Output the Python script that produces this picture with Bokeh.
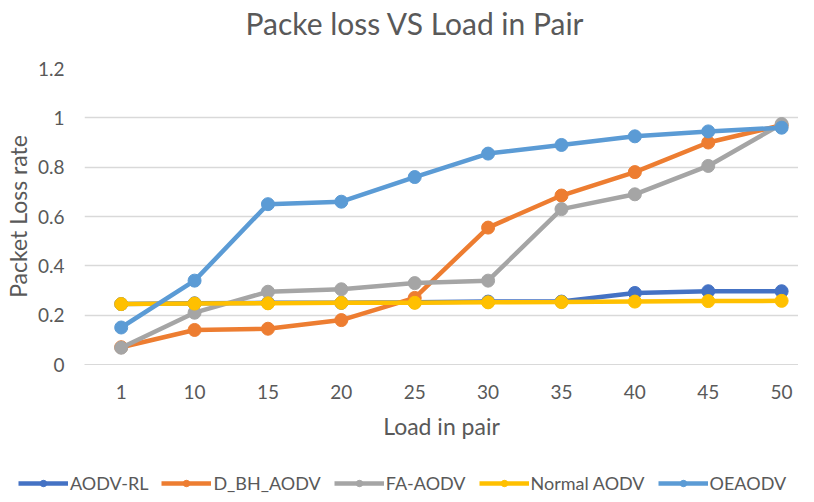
from bokeh.plotting import figure
from bokeh.models import (Range1d, FixedTicker, CustomJSTickFormatter, Legend, LegendItem, Label)
from bokeh.embed import file_html
from bokeh.resources import INLINE

title_text = "Packe loss VS Load in Pair"
loads = ["1", "10", "15", "20", "25", "30", "35", "40", "45", "50"]
aodv_rl = [0.245, 0.248, 0.25, 0.25, 0.252, 0.255, 0.255, 0.29, 0.297, 0.297]
d_bh_aodv = [0.07, 0.14, 0.145, 0.18, 0.27, 0.555, 0.685, 0.78, 0.90, 0.97]
fa_aodv = [0.068, 0.21, 0.295, 0.305, 0.33, 0.34, 0.63, 0.69, 0.805, 0.975]
normal_aodv = [0.245, 0.247, 0.248, 0.25, 0.25, 0.252, 0.253, 0.255, 0.257, 0.258]
oeaodv = [0.15, 0.34, 0.65, 0.66, 0.76, 0.855, 0.89, 0.925, 0.945, 0.96]
y_ticks = [0, 0.2, 0.4, 0.6, 0.8, 1.0, 1.2]

series = [
    ("AODV-RL", aodv_rl, "#4472C4"),
    ("D_BH_AODV", d_bh_aodv, "#ED7D31"),
    ("FA-AODV", fa_aodv, "#A5A5A5"),
    ("Normal AODV", normal_aodv, "#FFC000"),
    ("OEAODV", oeaodv, "#5B9BD5"),
]

FONT = "Lato"
TXT = "#595959"
W = 798

# title strip
p0 = figure(width=W, height=40, output_backend="svg", toolbar_location=None,
            x_axis_location=None, y_axis_location=None,
            x_range=Range1d(0, 1), y_range=Range1d(0, 1),
            min_border_left=0, min_border_right=0, min_border_top=0, min_border_bottom=0)
p0.grid.visible = False
p0.outline_line_color = None
p0.add_layout(Label(x=245, y=18, x_units="screen", y_units="screen", text=title_text,
                    text_font=FONT, text_font_size="30px", text_color=TXT,
                    text_align="left", text_baseline="middle"))

# main chart
p = figure(width=W, height=418, output_backend="svg", toolbar_location=None,
           x_range=Range1d(-0.5, 9.23), y_range=Range1d(0, 1.2),
           min_border_left=82, min_border_right=0, min_border_top=28, min_border_bottom=94)
p.outline_line_color = None
p.background_fill_color = "white"

xs = list(range(len(loads)))
for name, vals, col in series:
    p.line(xs, vals, line_color=col, line_width=4.5)
    p.scatter(xs, vals, size=13, fill_color=col, line_color=col)

p.xaxis.ticker = FixedTicker(ticks=xs)
p.xaxis.major_label_overrides = {i: l for i, l in enumerate(loads)}
p.yaxis.ticker = FixedTicker(ticks=y_ticks)
p.yaxis.formatter = CustomJSTickFormatter(code="return String(Math.round(tick*10)/10)")
for ax in (p.xaxis[0], p.yaxis[0]):
    ax.major_tick_line_color = None
    ax.minor_tick_line_color = None
    ax.major_tick_out = 0
    ax.major_tick_in = 0
    ax.major_label_text_font = FONT
    ax.major_label_text_font_size = "19px"
    ax.major_label_text_color = TXT
    ax.axis_label_text_font = FONT
    ax.axis_label_text_font_size = "23px"
    ax.axis_label_text_color = TXT
    ax.axis_label_text_font_style = "normal"
p.yaxis.axis_line_color = None
p.xaxis.axis_line_color = "#D9D9D9"
p.xaxis.major_label_standoff = 20
p.yaxis.major_label_standoff = 20
p.xaxis.axis_label = "Load in pair"
p.yaxis.axis_label = "Packet Loss rate"
p.xaxis.axis_label_standoff = 10
p.yaxis.axis_label_standoff = 3

p.xgrid.grid_line_color = None
p.ygrid.ticker = FixedTicker(ticks=y_ticks)
p.ygrid.grid_line_color = "#D9D9D9"
p.ygrid.grid_line_width = 1.3

# legend strip (series drawn out of view; only the legend shows)
p2 = figure(width=W, height=36, output_backend="svg", toolbar_location=None,
            x_axis_location=None, y_axis_location=None,
            x_range=Range1d(0, 1), y_range=Range1d(50, 51),
            min_border_left=0, min_border_right=0, min_border_top=0, min_border_bottom=0)
p2.grid.visible = False
p2.outline_line_color = None
items = []
for name, vals, col in series:
    r1 = p2.line(xs, vals, line_color=col, line_width=4.5)
    r2 = p2.scatter(xs, vals, size=11, fill_color=col, line_color=col)
    items.append(LegendItem(label=name, renderers=[r1, r2]))
legend = Legend(items=items, orientation="horizontal", location=(18, 0),
                label_text_font=FONT, label_text_font_size="18px", label_text_color=TXT,
                glyph_width=50, glyph_height=16, label_standoff=2, spacing=13,
                padding=0, margin=0, border_line_color=None, background_fill_alpha=0)
p2.add_layout(legend, "center")

open("out.html", "w").write(file_html([p0, p, p2], INLINE))
